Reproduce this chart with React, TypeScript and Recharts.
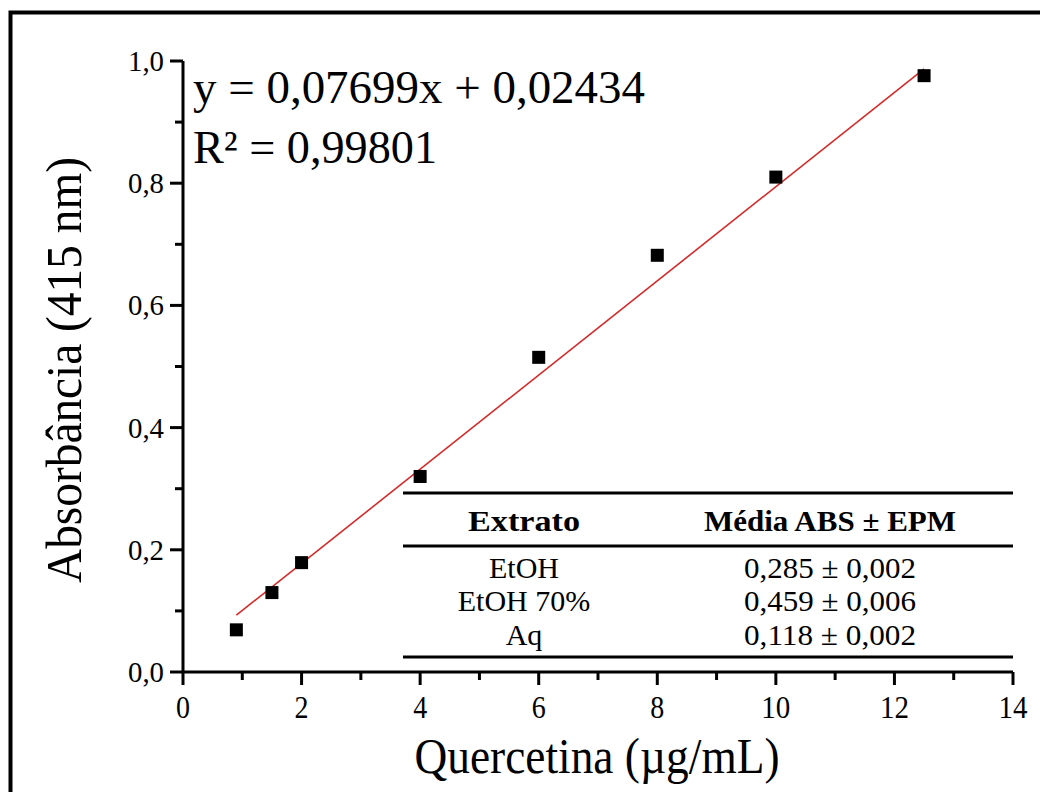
import React from 'react';
import { ComposedChart, Scatter, XAxis, YAxis, ReferenceLine } from 'recharts';

const concentrations = [0.9, 1.5, 2, 4, 6, 8, 10, 12.5];
const absorbances = [0.069, 0.13, 0.179, 0.32, 0.515, 0.682, 0.81, 0.976];
const fitStart = { x: 0.9, y: 0.093 };
const fitEnd = { x: 12.5, y: 0.987 };
const xTicks = [0, 1, 2, 3, 4, 5, 6, 7, 8, 9, 10, 11, 12, 13, 14];
const yTicks = [0, 0.1, 0.2, 0.3, 0.4, 0.5, 0.6, 0.7, 0.8, 0.9, 1.0];
const equationLine = 'y = 0,07699x + 0,02434';
const r2Line = 'R\u00B2 = 0,99801';
const tableHeaders = ['Extrato', 'Média ABS ± EPM'];
const tableExtracts = ['EtOH', 'EtOH 70%', 'Aq'];
const tableValues = ['0,285 ± 0,002', '0,459 ± 0,006', '0,118 ± 0,002'];
const xTitle = 'Quercetina (µg/mL)';
const yTitle = 'Absorbância (415 nm)';

const data = concentrations.map((x, i) => ({ x, y: absorbances[i] }));

const FONT = '"Liberation Serif", "Times New Roman", serif';

const XTick = (props: any) => {
  const { x, y, payload } = props;
  const v = payload.value;
  const major = v % 2 === 0;
  return (
    <g>
      <line x1={x} y1={y} x2={x} y2={y + (major ? 13 : 8)} stroke="#000" strokeWidth={3} />
      {major && (
        <text
          x={x}
          y={y + 46}
          textAnchor="middle"
          fontFamily={FONT}
          fontSize={31}
          fill="#000"
          textLength={v >= 10 ? 29 : 14}
          lengthAdjust="spacingAndGlyphs"
        >
          {String(v)}
        </text>
      )}
    </g>
  );
};

const YTick = (props: any) => {
  const { x, y, payload } = props;
  const v = payload.value;
  const major = Math.round(v * 10) % 2 === 0;
  return (
    <g>
      <line x1={x} y1={y} x2={x - (major ? 13 : 8)} y2={y} stroke="#000" strokeWidth={3} />
      {major && (
        <text
          x={x - 19}
          y={y + 10}
          textAnchor="end"
          fontFamily={FONT}
          fontSize={30}
          fill="#000"
          textLength={36}
          lengthAdjust="spacingAndGlyphs"
        >
          {v.toFixed(1).replace('.', ',')}
        </text>
      )}
    </g>
  );
};

const Square = (props: any) => {
  const { cx, cy } = props;
  return <rect x={cx - 6.5} y={cy - 6.5} width={13} height={13} fill="#000" />;
};

export default function App() {
  const tableLeft = 403;
  const tableRight = 1013;
  const col1 = 524;
  const col2 = 830;
  const rowBaselines = [578, 611, 645];
  return (
    <div style={{ position: 'absolute', left: 0, top: 0, width: 1040, height: 792, background: '#fff', overflow: 'hidden' }}>
      <ComposedChart
        width={1040}
        height={792}
        data={data}
        margin={{ top: 61, right: 27, bottom: 0, left: 0 }}
      >
        <XAxis
          type="number"
          dataKey="x"
          domain={[0, 14]}
          ticks={xTicks}
          interval={0}
          height={120}
          tickSize={0}
          tickMargin={0}
          tickLine={false}
          axisLine={{ stroke: '#000', strokeWidth: 3 }}
          tick={<XTick />}
          allowDecimals
        />
        <YAxis
          type="number"
          dataKey="y"
          domain={[0, 1]}
          ticks={yTicks}
          interval={0}
          width={183}
          tickSize={0}
          tickMargin={0}
          tickLine={false}
          axisLine={{ stroke: '#000', strokeWidth: 3 }}
          tick={<YTick />}
        />
        <ReferenceLine
          segment={[fitStart, fitEnd]}
          stroke="#d42a2a"
          strokeWidth={1.6}
          ifOverflow="visible"
        />
        <Scatter dataKey="y" fill="#000" shape={<Square />} isAnimationActive={false} />
      </ComposedChart>
      <svg
        width={1040}
        height={792}
        style={{ position: 'absolute', left: 0, top: 0, pointerEvents: 'none' }}
      >
        <rect x={10.5} y={12.5} width={1100} height={900} fill="none" stroke="#000" strokeWidth={4} />
        <text x={193} y={103} fontFamily={FONT} fontSize={46} fill="#000" textLength={452} lengthAdjust="spacingAndGlyphs">
          {equationLine}
        </text>
        <text x={193} y={163} fontFamily={FONT} fontSize={46} fill="#000" textLength={244} lengthAdjust="spacingAndGlyphs">
          {r2Line}
        </text>
        <text
          x={597}
          y={773}
          textAnchor="middle"
          fontFamily={FONT}
          fontSize={50}
          fill="#000"
          textLength={365}
          lengthAdjust="spacingAndGlyphs"
        >
          {xTitle}
        </text>
        <text
          transform="translate(81, 370) rotate(-90)"
          x={0}
          y={0}
          textAnchor="middle"
          fontFamily={FONT}
          fontSize={50}
          fill="#000"
          textLength={426}
          lengthAdjust="spacingAndGlyphs"
        >
          {yTitle}
        </text>
        <line x1={tableLeft} x2={tableRight} y1={493} y2={493} stroke="#000" strokeWidth={3} />
        <line x1={tableLeft} x2={tableRight} y1={546} y2={546} stroke="#000" strokeWidth={3} />
        <line x1={tableLeft} x2={tableRight} y1={657} y2={657} stroke="#000" strokeWidth={3} />
        <text x={col1} y={531} textAnchor="middle" fontFamily={FONT} fontSize={30} fontWeight="bold" fill="#000" textLength={112} lengthAdjust="spacingAndGlyphs">
          {tableHeaders[0]}
        </text>
        <text x={col2} y={531} textAnchor="middle" fontFamily={FONT} fontSize={30} fontWeight="bold" fill="#000" textLength={252} lengthAdjust="spacingAndGlyphs">
          {tableHeaders[1]}
        </text>
        {tableExtracts.map((t, i) => (
          <text key={'e' + i} x={col1} y={rowBaselines[i]} textAnchor="middle" fontFamily={FONT} fontSize={30} fill="#000">
            {t}
          </text>
        ))}
        {tableValues.map((t, i) => (
          <text key={'v' + i} x={col2} y={rowBaselines[i]} textAnchor="middle" fontFamily={FONT} fontSize={30} fill="#000" textLength={172} lengthAdjust="spacingAndGlyphs">
            {t}
          </text>
        ))}
      </svg>
    </div>
  );
}
